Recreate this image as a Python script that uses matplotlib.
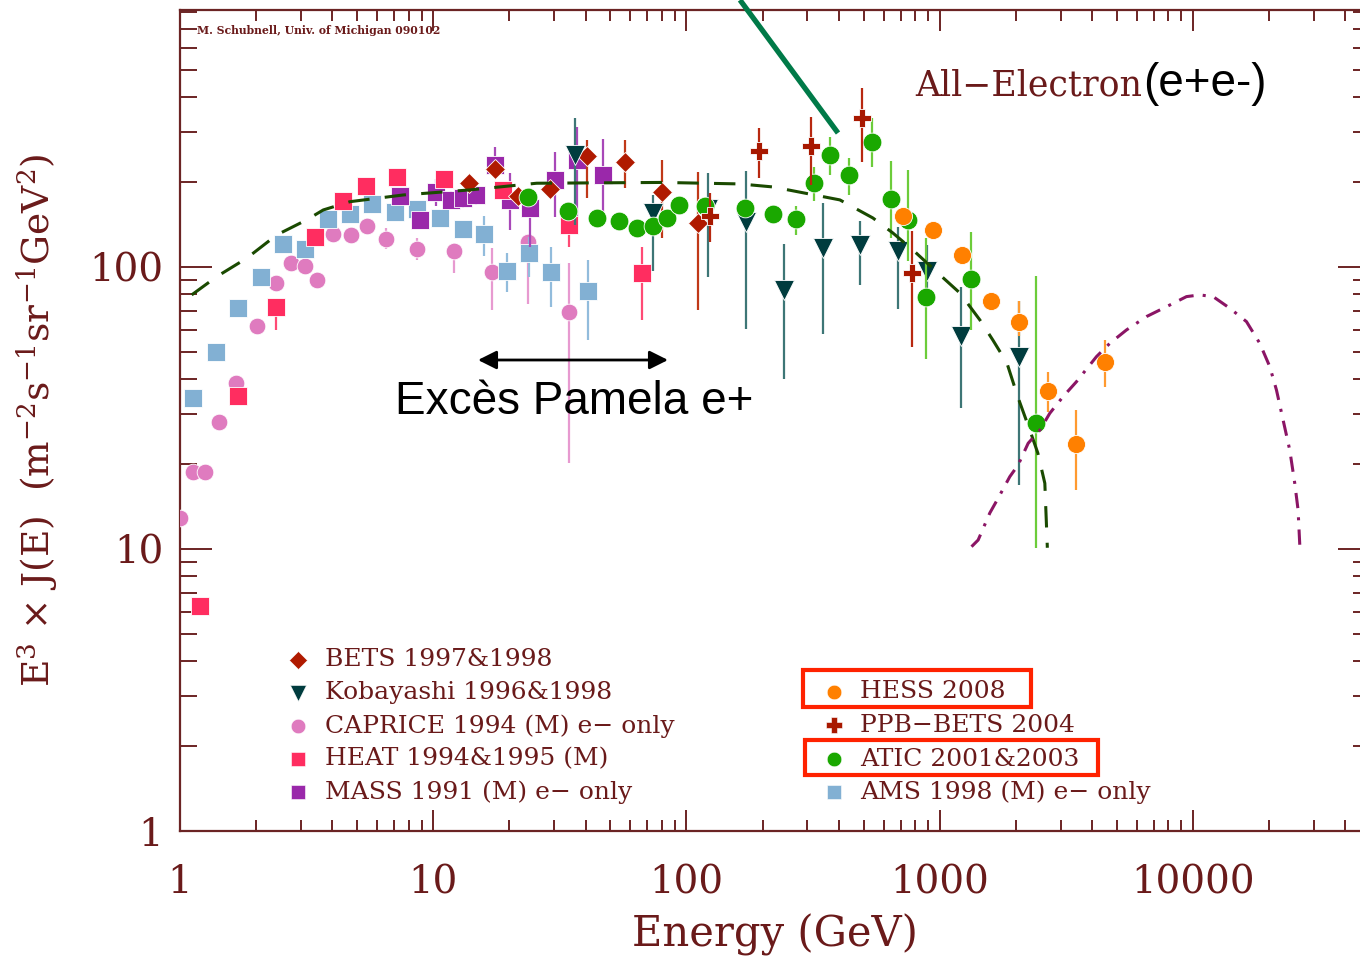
import numpy as np
import matplotlib
matplotlib.use("Agg")
import matplotlib.pyplot as plt
from matplotlib.lines import Line2D
from matplotlib.patches import Rectangle

plt.rcParams['font.family'] = ['DejaVu Serif']
plt.rcParams['mathtext.fontset'] = 'dejavuserif'
plt.rcParams['mathtext.default'] = 'regular'

# ---------------- data (E in GeV, E^3 J(E)) ----------------
ams_E = [1.13, 1.39, 1.70, 2.08, 2.54, 3.12, 3.83, 4.69, 5.74, 7.06, 8.65, 10.6, 13.1, 15.9, 19.5, 23.9, 29.3, 40.9]
ams_F = [34.2, 50.1, 71.7, 92.4, 121, 116, 148, 154, 167, 157, 160, 149, 136, 131, 97, 112, 96, 82]
ams_lo = [33, 48.5, 69.5, 89.5, 117, 112, 143, 149, 161, 151, 154, 142, 127, 109, 81.5, 92, 72, 55]
ams_hi = [35.4, 51.7, 74, 95.3, 125, 120, 153, 159, 173, 163, 166, 156, 146, 151, 112, 128, 118, 106]

cap_E = [1.0, 1.13, 1.26, 1.42, 1.66, 2.02, 2.39, 2.74, 3.12, 3.48, 4.01, 4.73, 5.46, 6.50, 8.60, 12.1, 17.0, 23.7, 34.3]
cap_F = [12.9, 18.7, 18.8, 28.3, 38.7, 61.9, 87.5, 103, 101, 89.9, 131, 130, 140, 126, 116, 114, 96, 123, 69.4]
cap_lo = [12.3, 17.9, 18.0, 27.0, 37.0, 59, 83, 97, 95, 84, 123, 122, 131, 116, 106, 95, 70.5, 74, 20.2]
cap_hi = [13.5, 19.5, 19.7, 29.6, 40.5, 64.8, 92, 109, 107, 96, 139, 138, 149, 137, 127, 122, 117, 128, 103]

heat_E = [1.20, 1.70, 2.39, 3.41, 4.41, 5.43, 7.17, 11.05, 18.9, 34.3, 66.5]
heat_F = [6.28, 35.0, 72.3, 128, 171, 193, 208, 205, 188, 141, 95]
heat_lo = [6.0, 33.5, 60, 122, 164, 185, 199, 196, 178, 118, 65]
heat_hi = [6.6, 36.6, 77, 134, 178, 201, 217, 214, 198, 147, 118]

mass_E = [7.39, 8.86, 10.3, 11.8, 13.1, 14.8, 17.5, 20.1, 24.1, 30.2, 36.8, 46.9]
mass_F = [178, 147, 185, 173, 175, 180, 230, 173, 162, 204, 240, 212]
mass_lo = [168, 138, 165, 160, 162, 166, 209, 135, 118, 150, 143, 147]
mass_hi = [188, 156, 205, 186, 188, 195, 266, 216, 190, 256, 313, 285]

bets_E = [13.9, 17.5, 21.7, 28.9, 40.3, 57.1, 79.8, 111]
bets_F = [198, 222, 178, 189, 248, 235, 184, 143]
bets_lo = [185, 208, 165, 175, 175, 190, 127, 70.6]
bets_hi = [212, 237, 191, 203, 283, 283, 240, 218]

kob_E = [36.3, 73.9, 121.5, 172, 242, 345, 484, 685, 887, 1208, 2058]
kob_F = [250, 155, 160, 144, 82.9, 117, 120, 114, 97, 56.9, 48.1]
kob_lo = [141, 97, 92, 60.5, 40, 58, 86, 71, 80, 31.5, 16.9]
kob_hi = [338, 180, 215, 219, 121, 169, 145, 139, 120, 85, 76]

ppb_E = [124, 194, 309, 491, 774]
ppb_F = [152, 258, 269, 337, 95]
ppb_lo = [123, 206, 195, 236, 52]
ppb_hi = [183, 310, 340, 430, 134]

atic_E = [23.7, 34.1, 44.2, 54.2, 63.9, 73.5, 83.5, 93.6, 118, 170, 220, 270, 318, 368, 439, 541, 641, 750, 879, 1323, 2389]
atic_F = [177, 158, 149, 145, 137, 140, 149, 166, 164, 162, 154, 148, 198, 250, 212, 278, 174, 147, 78.5, 90.7, 28.0]
atic_lo = [170, 152, 143, 139, 131, 134, 143, 159, 157, 155, 147, 130, 172, 212, 180, 227, 127, 105, 47, 60, 10.1]
atic_hi = [184, 164, 155, 151, 143, 146, 155, 173, 171, 169, 161, 164, 227, 288, 243, 338, 237, 220, 127, 133, 93]

hess_E = [717, 937, 1219, 1587, 2052, 2665, 3446, 4485]
hess_F = [151, 135, 110, 75.9, 64.0, 36.4, 23.6, 46.2]
hess_lo = [144, 129, 105, 72.5, 57, 30.5, 16.2, 37.6]
hess_hi = [158, 141, 115, 79.5, 76, 42.5, 31, 55]

model_E = [1.112, 1.396, 1.834, 2.41, 3.16, 3.68, 4.69, 7.61, 13.96, 25.6, 80.7, 162.4, 219.3,
           403.3, 544.4, 652.8, 783.2, 1002, 1200, 1440, 1620, 1841, 2034, 2268, 2439, 2600, 2660]
model_F = [79.6, 92.4, 107.4, 129.9, 146.8, 159.3, 170.4, 180, 187.6, 198.1, 199.4, 197, 192.2,
           172.9, 149.2, 132, 114.9, 93.7, 80.9, 64.9, 55.1, 45.7, 34.6, 26.4, 21.9, 17.1, 10.1]

src_E = [1335, 1418, 1577, 1700, 1891, 2040, 2234, 2485, 2721, 3070, 3467, 4159, 4694, 5463, 6553, 7861,
         9425, 10637, 12006, 13973, 16264, 18354, 20105, 21363, 22683, 24110, 25227, 26001, 26405]
src_F = [10.19, 10.76, 13.42, 15.13, 18.05, 19.86, 23.7, 26.4, 30.3, 34.7, 39.2, 48.1, 53.6, 59.8, 66.7, 72.3,
         78.5, 79.6, 78.5, 71.4, 64.0, 53.6, 44.3, 36.6, 28.7, 22.4, 17.1, 13.75, 10.33]

xticks = [1, 10, 100, 1000, 10000]
xticklabels = ['1', '10', '100', '1000', '10000']
yticks = [1, 10, 100]
yticklabels = ['1', '10', '100']

left_legend = ['BETS 1997&1998', 'Kobayashi 1996&1998', 'CAPRICE 1994 (M) e\u2212 only',
               'HEAT 1994&1995 (M)', 'MASS 1991 (M) e\u2212 only']
right_legend = ['HESS 2008', 'PPB\u2212BETS 2004', 'ATIC 2001&2003', 'AMS 1998 (M) e\u2212 only']

# ---------------- styling ----------------
BROWN = '#6b2424'
TXT = '#6a1a1a'
W, H = 1360, 957
fig = plt.figure(figsize=(W / 100, H / 100), dpi=100)
AX_L, AX_R, AX_T, AX_B = 180, 1370, 10, 831
ax = fig.add_axes([AX_L / W, (H - AX_B) / H, (AX_R - AX_L) / W, (AX_B - AX_T) / H])
ax.set_xscale('log')
ax.set_yscale('log')
ax.set_xlim(1, 5e4)
ax.set_ylim(1, 815)


def ax_xy(px, py):
    return (px - AX_L) / (AX_R - AX_L), (AX_B - py) / (AX_B - AX_T)


def series(E, F, lo, hi, marker, mc, ec, ms, z):
    E = np.array(E); F = np.array(F)
    yerr = [F - np.array(lo), np.array(hi) - F]
    ax.errorbar(E, F, yerr=yerr, fmt='none', ecolor=ec, elinewidth=1.6, capsize=0, zorder=z)
    ax.plot(E, F, linestyle='none', marker=marker, ms=ms, mfc=mc, mec='white', mew=0.6, zorder=z + 0.5)


series(cap_E, cap_F, cap_lo, cap_hi, 'o', '#df7bbf', '#e79ad0', 12, 3)
series(ams_E, ams_F, ams_lo, ams_hi, 's', '#82b0d3', '#92bcdc', 13, 4)
series(mass_E, mass_F, mass_lo, mass_hi, 's', '#9a28aa', '#a848b8', 13, 5)
series(heat_E, heat_F, heat_lo, heat_hi, 's', '#ff2d60', '#ff4a75', 12.5, 6)
series(bets_E, bets_F, bets_lo, bets_hi, 'D', '#b01a00', '#c03818', 10.5, 7)
series(kob_E, kob_F, kob_lo, kob_hi, 'v', '#003c3e', '#3d7676', 14, 8)
series(atic_E, atic_F, atic_lo, atic_hi, 'o', '#1aa800', '#6ccc3a', 13.5, 9)
series(ppb_E, ppb_F, ppb_lo, ppb_hi, 'P', '#a81800', '#b82810', 13, 10)
series(hess_E, hess_F, hess_lo, hess_hi, 'o', '#ff8000', '#ff9a30', 13, 11)

ax.plot(model_E, model_F, color='#1a4a00', lw=2.2, linestyle=(0, (7, 5)), zorder=12)
ax.plot(src_E, src_F, color='#8b1565', lw=2.2, linestyle=(0, (5, 3, 1, 3)), zorder=12)

# ---------------- axes ----------------
for s in ax.spines.values():
    s.set_color(BROWN)
    s.set_linewidth(1.6)
ax.set_xticks(xticks)
ax.set_xticklabels(xticklabels)
ax.set_yticks(yticks)
ax.set_yticklabels(yticklabels)
ax.tick_params(axis='both', which='both', direction='in', top=True, right=True,
               colors=BROWN, labelcolor=TXT, width=1.4)
ax.tick_params(axis='x', which='major', length=15, pad=24, labelsize=28)
ax.tick_params(axis='x', which='minor', length=8)
ax.tick_params(axis='y', which='major', length=23, pad=12, labelsize=28)
ax.tick_params(axis='y', which='minor', length=12)

ax.set_xlabel('Energy (GeV)', fontsize=30, color=TXT)
ax.xaxis.set_label_coords(0.5, ax_xy(0, 914)[1])
ax.set_ylabel(r'E$^3$ $\times$ J(E)  (m$^{-2}$s$^{-1}$sr$^{-1}$GeV$^2$)', fontsize=27, color=TXT)
ax.yaxis.set_label_coords(ax_xy(60, 0)[0], 0.5)

# ---------------- annotations ----------------
ax.text(*ax_xy(197, 30), 'M. Schubnell, Univ. of Michigan 090102', transform=ax.transAxes,
        fontsize=7.8, fontweight='bold', color=TXT, va='center', ha='left')
ax.text(*ax_xy(915, 96), 'All\u2212Electron', transform=ax.transAxes, fontsize=25,
        color=TXT, va='baseline', ha='left')
ax.text(*ax_xy(1143, 96), '(e+e-)', transform=ax.transAxes, fontsize=33,
        family='Liberation Sans', color='black', va='baseline', ha='left')
ax.text(*ax_xy(395, 414), 'Exc\u00e8s Pamela e+', transform=ax.transAxes, fontsize=33,
        family='Liberation Sans', color='black', va='baseline', ha='left')
ax.annotate('', xy=ax_xy(668, 360), xytext=ax_xy(478, 360), xycoords='axes fraction',
            textcoords='axes fraction',
            arrowprops=dict(arrowstyle='<|-|>', color='black', lw=2, mutation_scale=28,
                            shrinkA=0, shrinkB=0))
fig.add_artist(Line2D([740 / W, 838 / W], [1, 1 - 133 / H], color='#007a48', lw=3.8,
                      solid_capstyle='butt'))

# ---------------- legend ----------------
lmark = [('D', '#b01a00', 9), ('v', '#003c3e', 11), ('o', '#df7bbf', 10.5),
         ('s', '#ff2d60', 10.5), ('s', '#9a28aa', 10.5)]
for i, (lab, (m, c, s)) in enumerate(zip(left_legend, lmark)):
    py = 660 + 33 * i
    ax.plot(*ax_xy(298, py), marker=m, color=c, ms=s, mec='white', mew=0.4,
            transform=ax.transAxes, clip_on=False, zorder=20)
    ax.text(*ax_xy(325, py), lab, transform=ax.transAxes, fontsize=18, color=TXT,
            va='center', ha='left')
rmark = [('o', '#ff8000', 10.5), ('P', '#a81800', 11), ('o', '#1aa800', 10.5), ('s', '#82b0d3', 10.5)]
for i, (lab, (m, c, s)) in enumerate(zip(right_legend, rmark)):
    py = [692, 725, 759, 792][i]
    ax.plot(*ax_xy(834, py), marker=m, color=c, ms=s, mec='white', mew=0.4,
            transform=ax.transAxes, clip_on=False, zorder=20)
    ax.text(*ax_xy(860, py), lab, transform=ax.transAxes, fontsize=18, color=TXT,
            va='center', ha='left')

for (x0, y0, x1, y1) in [(803, 670, 1031, 707), (805, 740, 1098, 775)]:
    fig.add_artist(Rectangle((x0 / W, 1 - y1 / H), (x1 - x0) / W, (y1 - y0) / H,
                             fill=False, edgecolor='#ff2200', lw=3, transform=fig.transFigure))

fig.savefig('out.png', dpi=100)
